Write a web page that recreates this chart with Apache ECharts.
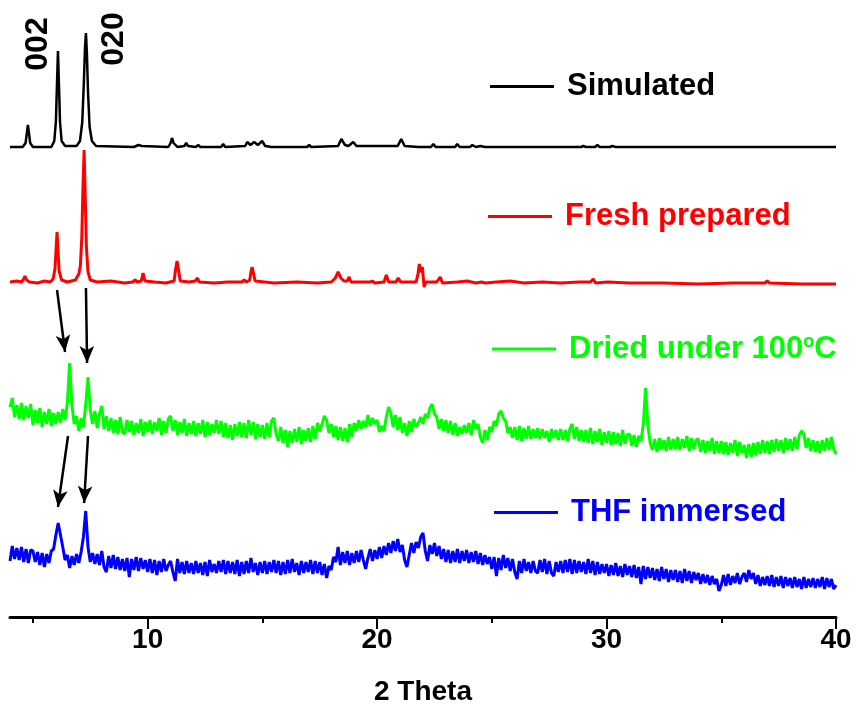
<!DOCTYPE html>
<html>
<head>
<meta charset="utf-8">
<script src="https://cdn.jsdelivr.net/npm/echarts@6/dist/echarts.min.js"></script>
<style>
html,body{margin:0;padding:0;background:#fff;}
#c{width:856px;height:715px;}
</style>
</head>
<body>
<div id="c"></div>
<script>
// ---------- DATA (y includes the vertical stacking offset) ----------
const seriesNames = ['Simulated', 'Fresh prepared', 'Dried under 100°C', 'THF immersed'];
const xTickLabels = [10, 20, 30, 40];
const xMinorTicks = [5, 15, 25, 35];

// Simulated pattern [2θ, intensity]
const simulated = [
  [4.0,470],[4.55,470],[4.68,474],[4.74,485],[4.78,492],[4.82,485],[4.88,474],[5.0,470],
  [5.8,470],[5.93,476],[6.0,495],[6.05,535],[6.09,566],[6.13,535],[6.18,495],[6.25,476],[6.4,471],
  [6.9,471],[7.05,476],[7.15,495],[7.22,535],[7.27,570],[7.31,584],[7.35,565],[7.40,525],[7.47,490],[7.57,476],[7.75,471],
  [9.4,470],[9.6,472],[9.67,473],[9.75,471],[10.9,470],[11.0,474],[11.06,479],[11.13,474],[11.3,470],
  [11.6,471],[11.68,474],[11.76,471],[12.1,470],[12.2,472],[12.3,470],[13.2,470],[13.29,473],[13.38,470],
  [14.25,471],[14.34,475],[14.48,472],[14.64,475],[14.8,472],[14.99,476],[15.12,471],[15.4,470],
  [16.95,470],[17.04,472],[17.13,470],[18.3,471],[18.44,478],[18.6,472],[18.75,471],[18.96,475],[19.1,471],
  [20.9,471],[21.05,478],[21.2,471],[21.8,470],[21.88,472],[21.98,470],[22.35,470],[22.45,473],[22.55,470],
  [23.4,470],[23.49,473],[23.6,470],[24.05,470],[24.15,472],[24.3,470],[24.5,471],[24.7,470],
  [26.6,470],[26.68,471],[26.8,470],[28.9,470],[28.99,471],[29.1,470],[29.5,470],[29.6,472],[29.7,470],
  [30.15,470],[30.25,471],[30.4,470],[37.2,470],[37.27,471],[37.4,470],[40.0,470]
];

// Fresh prepared pattern [2θ, intensity]
const fresh = [
  [4.0,335],[4.3,336],[4.5,335],[4.6,338],[4.65,341],[4.72,337],[4.85,335],[5.2,334],[5.5,336],
  [5.75,335],[5.88,338],[5.96,348],[6.01,368],[6.05,385],[6.09,368],[6.14,346],[6.25,337],[6.5,335],
  [6.85,337],[7.0,343],[7.07,352],[7.13,380],[7.18,430],[7.23,467],[7.28,420],[7.33,370],[7.4,345],[7.5,337],[7.8,335],
  [8.4,336],[9.0,334],[9.35,335],[9.45,337],[9.55,335],[9.72,336],[9.8,344],[9.88,336],[10.3,335],[10.8,334],
  [11.15,336],[11.22,348],[11.28,356],[11.34,348],[11.42,336],[11.8,335],[12.08,336],[12.16,339],[12.25,335],
  [12.9,334],[13.5,335],[14.1,335],[14.2,337],[14.3,335],[14.45,337],[14.5,345],[14.55,350],[14.6,345],[14.68,336],
  [15.5,334],[16.5,335],[17.4,334],[18.0,335],[18.18,339],[18.3,345],[18.42,339],[18.55,336],[18.7,336],[18.78,340],[18.86,335],
  [19.3,335],[19.7,335],[19.79,336],[19.9,334],[20.3,335],[20.4,342],[20.5,335],[20.82,335],[20.92,339],[21.02,335],
  [21.7,335],[21.78,343],[21.84,353],[21.9,345],[21.97,350],[22.05,330],[22.12,335],[22.6,335],[22.75,340],[22.85,334],
  [23.5,335],[23.93,336],[24.3,334],[24.55,335],[24.63,337],[24.72,334],[25.2,335],[25.8,336],[26.4,334],
  [27.2,335],[28.0,334],[28.8,335],[29.3,335],[29.42,338],[29.52,334],[30.04,335],[31.0,334],[32.5,334],
  [34.0,333],[35.5,334],[36.9,334],[37.0,336],[37.1,334],[38.5,333],[40.0,333]
];

// Dried and THF: sampled every 0.1° from 4.0 to 40.0
const thetaStart = 4.0, thetaStep = 0.1;
const dried = [
  210,219,200,212,198,214,197,211,199,213,
  192,207,194,209,190,205,193,208,191,204,
  193,205,194,208,197,214,254,212,193,201,
  186,199,190,212,240,207,193,206,189,203,
  211,188,201,186,199,184,197,183,200,185,
  183,197,185,196,182,194,184,198,181,195,
  185,197,183,195,186,199,182,196,184,198,
  201,186,197,182,195,184,198,181,194,183,
  196,181,194,183,197,180,195,182,193,184,
  197,183,196,180,194,179,192,177,193,181,
  195,180,194,179,197,182,195,178,193,180,
  192,178,194,180,196,199,183,176,190,174,
  187,170,186,174,188,175,190,173,187,176,
  189,175,191,178,194,186,193,201,197,184,
  193,180,191,177,190,176,189,175,193,180,
  194,186,197,188,196,190,202,191,199,193,
  197,185,191,186,200,210,204,190,202,187,
  200,184,194,181,196,185,198,190,194,200,
  193,203,199,209,213,203,200,188,198,186,
  197,184,196,182,194,181,190,183,192,184,
  194,182,197,188,193,180,174,187,177,190,
  185,196,191,203,206,199,196,184,190,179,
  190,177,191,176,189,178,191,178,188,179,
  189,178,188,179,186,175,188,179,187,177,
  188,177,187,176,188,193,178,190,176,187,
  175,187,174,189,173,186,175,188,172,185,
  174,186,172,185,173,184,171,187,173,182,
  183,171,182,170,181,176,192,229,192,174,
  167,178,165,179,168,177,166,180,167,178,
  168,180,167,178,169,181,166,179,168,177,
  178,165,177,164,176,166,179,163,176,164,
  176,163,175,162,174,164,177,161,175,164,
  172,159,173,160,174,162,175,163,177,164,
  176,163,177,165,178,166,177,164,179,167,
  178,166,180,168,182,186,183,169,179,166,
  177,165,176,164,177,166,179,167,180,168,
  163
];
const thf = [
  56,71,58,69,57,70,55,68,54,67,
  66,55,65,52,64,50,63,54,66,68,
  82,94,82,70,57,62,49,61,52,63,
  54,65,80,106,70,55,64,53,63,52,
  66,50,45,61,49,62,48,60,47,58,
  46,59,40,58,47,60,46,59,48,57,
  45,58,44,57,42,56,45,58,46,52,
  56,45,36,58,44,55,43,56,44,54,
  43,56,44,54,42,55,41,57,45,53,
  44,56,45,57,43,56,44,55,43,57,
  41,55,43,56,44,59,45,54,42,55,
  44,56,43,55,45,57,44,56,42,55,
  43,57,44,58,45,54,42,56,44,55,
  45,57,43,56,44,55,42,53,39,51,
  47,60,55,70,52,65,54,66,52,64,
  54,66,55,67,57,48,59,68,56,67,
  58,70,59,71,62,74,64,76,66,78,
  65,72,57,50,62,74,64,75,69,80,
  84,66,56,72,63,74,61,71,58,68,
  55,67,54,66,55,68,54,66,56,67,
  54,65,55,66,53,64,52,62,53,60,
  48,60,41,59,47,62,49,59,46,58,
  45,38,56,44,58,46,55,44,56,46,
  44,57,45,58,43,56,44,41,55,45,
  56,44,57,45,58,43,57,44,56,45,
  55,43,58,44,56,42,55,43,53,44,
  53,41,52,42,54,41,51,40,53,42,
  51,40,52,39,50,33,51,38,50,39,
  49,37,48,36,50,38,48,35,47,37,
  47,35,46,34,48,36,46,34,45,37,
  44,33,43,34,42,32,41,33,38,26,
  32,42,31,43,32,41,34,44,33,40,
  44,35,47,38,44,33,42,31,40,32,
  41,31,42,30,40,31,41,29,40,31,
  39,29,40,30,38,28,40,29,38,30,
  39,29,38,30,40,28,39,30,38,28,
  32
];

// peak labels [text, 2θ, y]
const peakLabels = [['002', 5.22, 573], ['020', 8.54, 578]];
// arrows [[x1,y1],[x2,y2]] following the 002 / 020 peak shifts
const shiftArrows = [
  [[6.05,327],[6.40,265]],
  [[7.31,329],[7.36,254]],
  [[6.53,181],[6.09,110]],
  [[7.40,181],[7.23,114]]
];

// ---------- CHART ----------
const colors = ['#000000', '#ff0000', '#00ff00', '#0000ff'];
const FONT = 'Liberation Sans, Arial, sans-serif';
const toPairs = arr => arr.map((v, i) => [+(thetaStart + i * thetaStep).toFixed(2), v]);

const legendTops = [71, 201, 333, 497];
const legendLefts = [490, 488, 492, 494];

const chart = echarts.init(document.getElementById('c'), null, {renderer: 'canvas'});
chart.setOption({
  animation: false,
  backgroundColor: '#ffffff',
  grid: {left: 10, right: 20, top: 17, bottom: 98, containLabel: false, outerBoundsMode: 'none'},
  legend: seriesNames.map((n, i) => ({
    data: [n],
    left: legendLefts[i], top: legendTops[i],
    orient: 'horizontal', padding: 0, itemGap: 0,
    icon: 'rect', itemWidth: 64, itemHeight: 3,
    selectedMode: false,
    formatter: name => name.replace('°', '{sup|o}'),
    textStyle: {
      fontFamily: FONT, fontSize: 31, fontWeight: 'bold', color: colors[i],
      padding: [0, 0, 0, 8],
      rich: {sup: {fontFamily: FONT, fontSize: 18, fontWeight: 'bold', color: colors[i], verticalAlign: 'top', padding: [0, 0, 14, 0]}}
    }
  })),
  xAxis: [{
    type: 'value', min: 4, max: 40, position: 'bottom',
    axisLine: {show: true, onZero: false, lineStyle: {color: '#000', width: 3}},
    axisTick: {show: true, inside: false, length: 12, lineStyle: {color: '#000', width: 2}, customValues: xTickLabels},
    axisLabel: {show: true, customValues: xTickLabels, fontFamily: FONT, fontSize: 28, fontWeight: 'bold', color: '#000', margin: 9},
    splitLine: {show: false},
    name: '2 Theta', nameLocation: 'middle', nameGap: 61,
    nameTextStyle: {fontFamily: FONT, fontSize: 28, fontWeight: 'bold', color: '#000'}
  }, {
    type: 'value', min: 4, max: 40, position: 'bottom', offset: 0,
    axisLine: {show: false, onZero: false},
    axisTick: {show: true, inside: false, length: 6, lineStyle: {color: '#000', width: 2}, customValues: xMinorTicks},
    axisLabel: {show: false},
    splitLine: {show: false}
  }],
  yAxis: {type: 'value', min: 0, max: 600, show: false, splitLine: {show: false}},
  series: [
    {
      name: seriesNames[0], type: 'line', data: simulated, showSymbol: false, symbol: 'none',
      lineStyle: {color: colors[0], width: 2.5}, itemStyle: {color: colors[0]}, z: 3, silent: true,
      markLine: {
        silent: true, symbol: ['none', 'arrow'], symbolSize: [11, 17],
        label: {show: false},
        lineStyle: {color: '#000', width: 2.5, type: 'solid'},
        emphasis: {disabled: true},
        data: shiftArrows.map(a => [{coord: a[0]}, {coord: a[1]}])
      },
      markPoint: {
        silent: true, symbol: 'circle', symbolSize: 1,
        itemStyle: {color: 'rgba(0,0,0,0)'},
        label: {show: true, position: 'inside', rotate: 90, fontFamily: FONT, fontSize: 32, fontWeight: 'bold', color: '#000'},
        data: peakLabels.map(p => ({coord: [p[1], p[2]], value: p[0], label: {formatter: p[0]}}))
      }
    },
    {name: seriesNames[1], type: 'line', data: fresh, showSymbol: false, symbol: 'none',
      lineStyle: {color: colors[1], width: 3}, itemStyle: {color: colors[1]}, silent: true},
    {name: seriesNames[2], type: 'line', data: toPairs(dried), showSymbol: false, symbol: 'none',
      lineStyle: {color: colors[2], width: 3}, itemStyle: {color: colors[2]}, silent: true},
    {name: seriesNames[3], type: 'line', data: toPairs(thf), showSymbol: false, symbol: 'none',
      lineStyle: {color: colors[3], width: 3}, itemStyle: {color: colors[3]}, silent: true}
  ]
});
</script>
</body>
</html>
